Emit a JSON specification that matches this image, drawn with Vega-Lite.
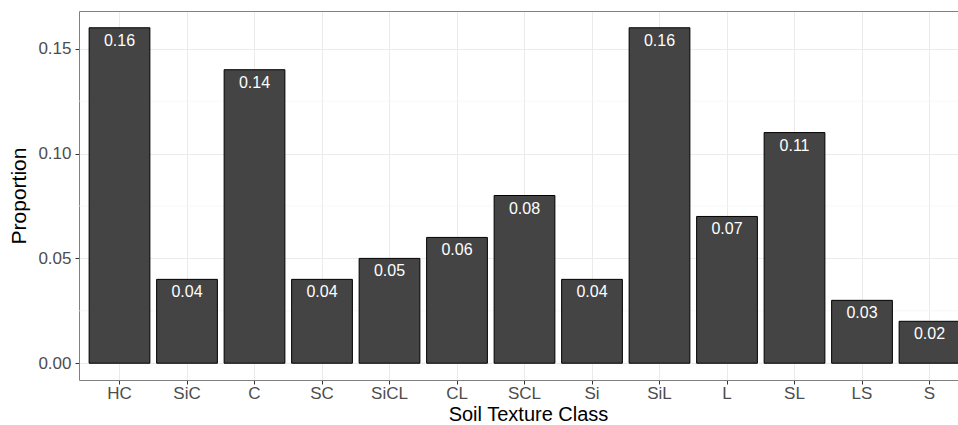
{
  "$schema": "https://vega.github.io/schema/vega-lite/v6.json",
  "width": 879,
  "height": 369,
  "autosize": {"type": "none"},
  "padding": {"left": 79, "top": 11, "right": 0, "bottom": 45},
  "background": "white",
  "config": {
    "view": {"stroke": null},
    "font": "Liberation Sans"
  },
  "data": {
    "values": [
      {"cls": "HC", "p": 0.16},
      {"cls": "SiC", "p": 0.04},
      {"cls": "C", "p": 0.14},
      {"cls": "SC", "p": 0.04},
      {"cls": "SiCL", "p": 0.05},
      {"cls": "CL", "p": 0.06},
      {"cls": "SCL", "p": 0.08},
      {"cls": "Si", "p": 0.04},
      {"cls": "SiL", "p": 0.16},
      {"cls": "L", "p": 0.07},
      {"cls": "SL", "p": 0.11},
      {"cls": "LS", "p": 0.03},
      {"cls": "S", "p": 0.02}
    ]
  },
  "encoding": {
    "y": {
      "field": "p",
      "type": "quantitative",
      "scale": {"domain": [-0.008, 0.168], "nice": false, "zero": false},
      "axis": {
        "title": "Proportion",
        "values": [0, 0.05, 0.1, 0.15],
        "format": ".2f",
        "domain": true,
        "domainColor": "#808080",
        "domainWidth": 1,
        "grid": true,
        "gridColor": "#EBEBEB",
        "gridWidth": 1,
        "ticks": true,
        "tickColor": "#333333",
        "tickSize": 4,
        "labelColor": "#4D4D4D",
        "labelFontSize": 17,
        "labelPadding": 4,
        "titleFontSize": 21,
        "titleFontWeight": "normal",
        "titleColor": "#000000",
        "titleX": -60,
        "titleY": 184.5,
        "titleAngle": -90,
        "titleAlign": "center",
        "titleBaseline": "middle"
      }
    }
  },
  "layer": [
    {
      "data": {"values": [{"p": 0.025}, {"p": 0.075}, {"p": 0.125}]},
      "mark": {"type": "rule", "color": "#F3F3F3", "strokeWidth": 0.7},
      "encoding": {}
    },
    {
      "mark": {"type": "bar", "fill": "#444444", "stroke": "#000000", "strokeWidth": 1},
      "encoding": {
        "x": {
          "field": "cls",
          "type": "nominal",
          "sort": null,
          "scale": {"type": "band", "paddingInner": 0.1, "paddingOuter": 0.15, "range": [0, 891]},
          "axis": {
            "title": "Soil Texture Class",
            "orient": "bottom",
            "labelAngle": 0,
            "bandPosition": 0.5,
            "domain": true,
            "domainColor": "#808080",
            "domainWidth": 1,
            "grid": true,
            "gridColor": "#EBEBEB",
            "gridWidth": 1,
            "ticks": true,
            "tickColor": "#333333",
            "tickSize": 4,
            "labelColor": "#4D4D4D",
            "labelFontSize": 17,
            "labelPadding": 1,
            "titleFontSize": 20,
            "titleFontWeight": "normal",
            "titleColor": "#000000",
            "titleX": 449,
            "titleY": 40,
            "titleAlign": "center",
            "titleBaseline": "alphabetic"
          }
        }
      }
    },
    {
      "mark": {"type": "text", "color": "white", "fontSize": 16, "baseline": "middle", "dy": 13},
      "encoding": {
        "x": {
          "field": "cls",
          "type": "nominal",
          "sort": null,
          "axis": {
            "orient": "top",
            "title": null,
            "labels": false,
            "ticks": false,
            "grid": false,
            "domain": true,
            "domainColor": "#808080",
            "domainWidth": 1
          }
        },
        "text": {"field": "p", "type": "quantitative", "format": ".2f"}
      }
    }
  ],
  "resolve": {"axis": {"x": "independent"}}
}
